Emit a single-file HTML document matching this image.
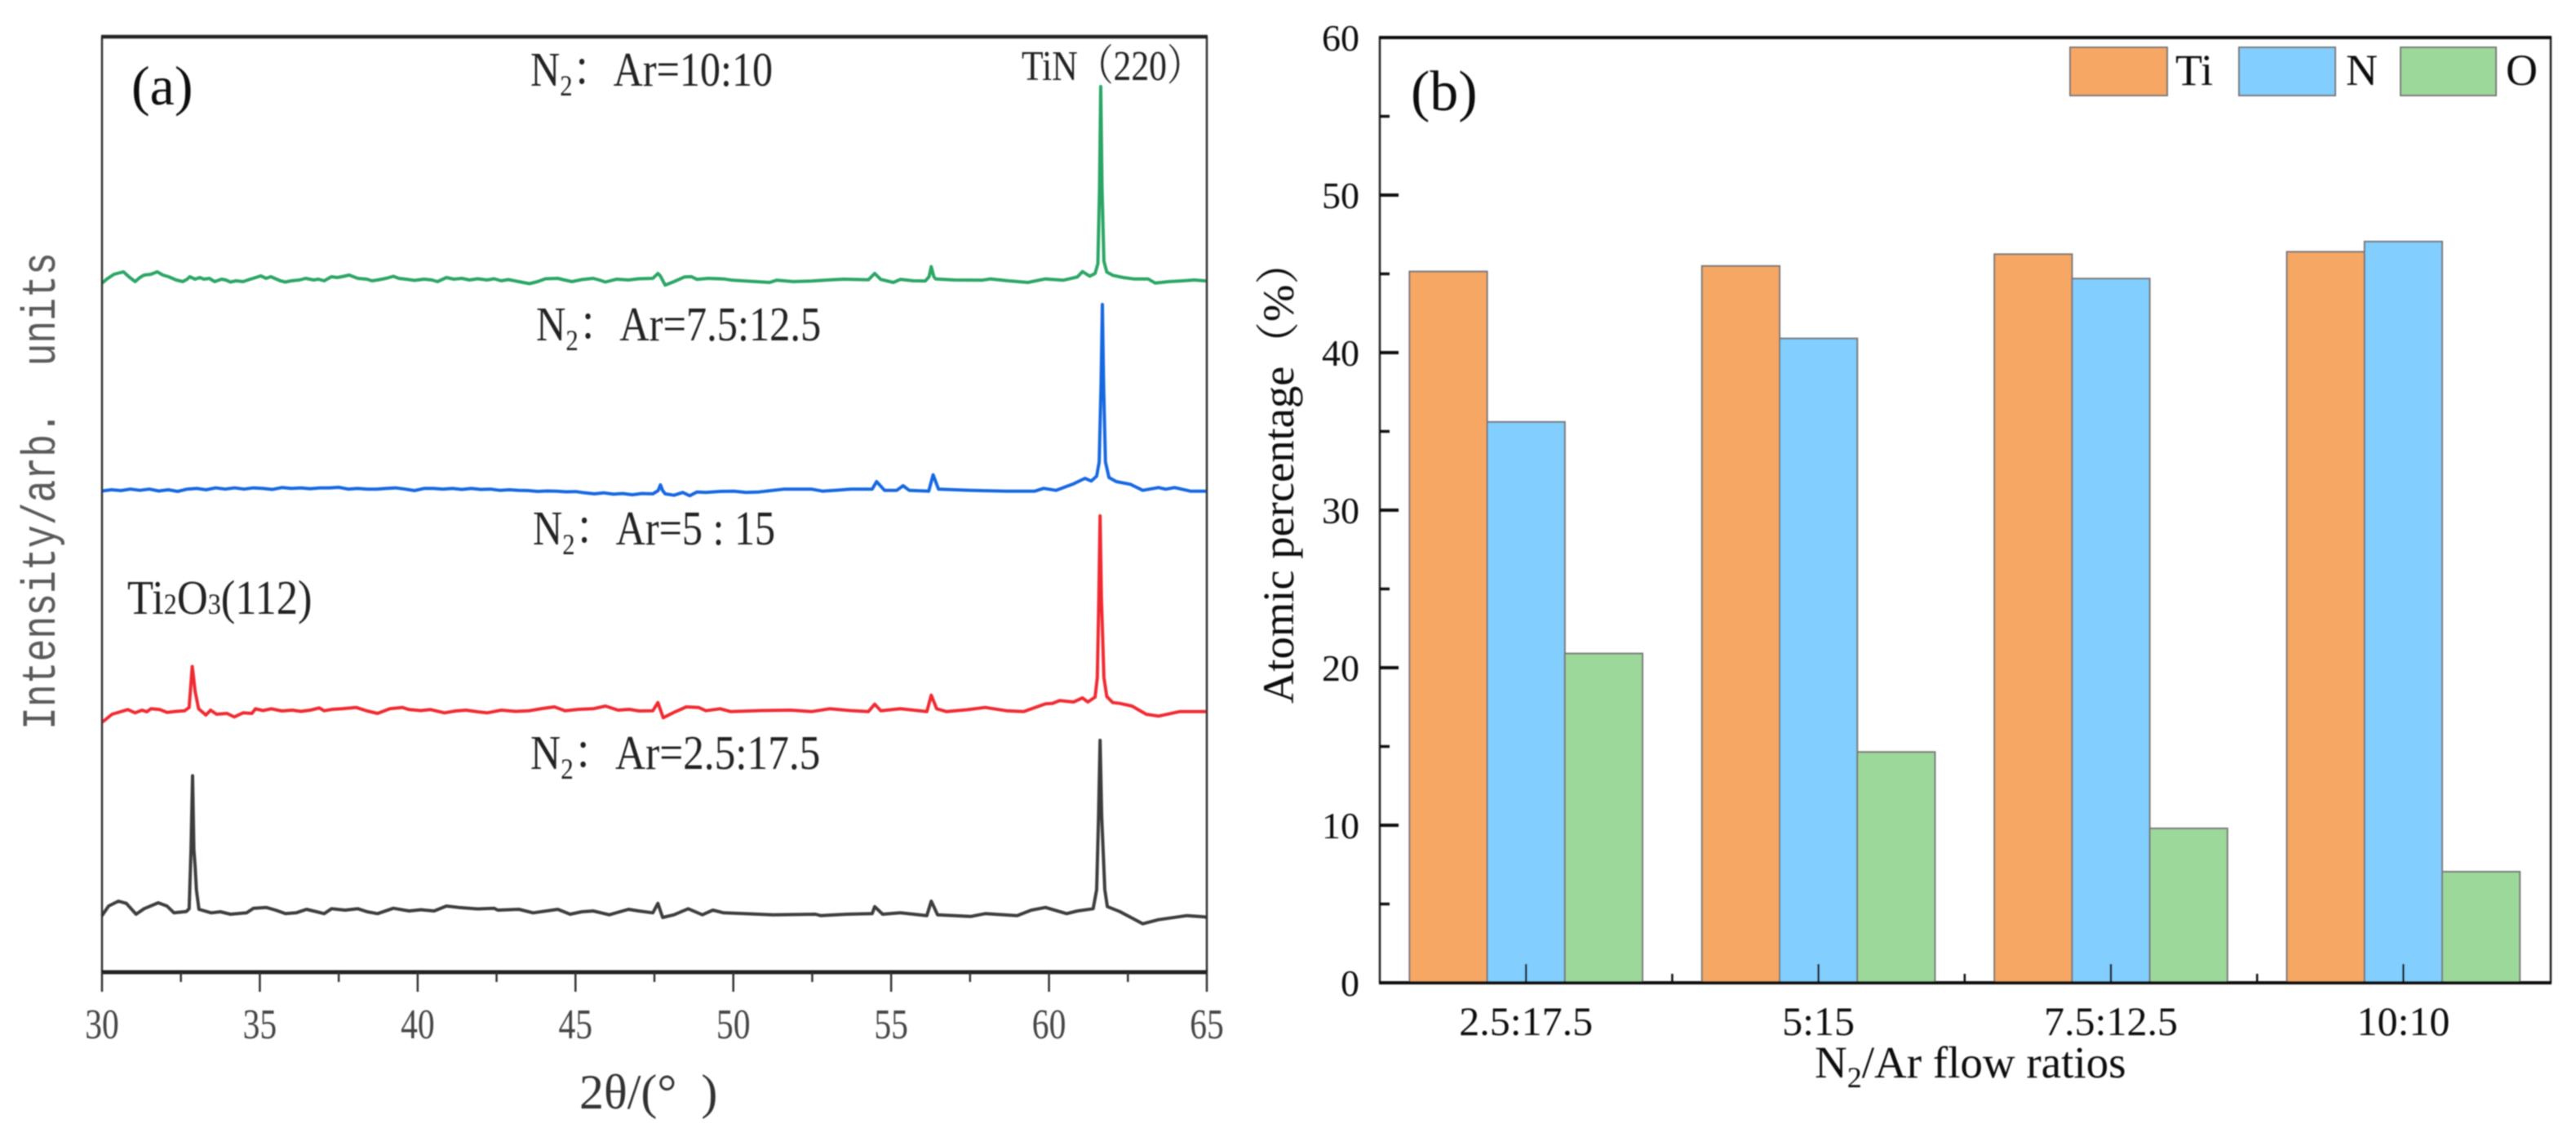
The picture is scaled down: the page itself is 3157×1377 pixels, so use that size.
<!DOCTYPE html>
<html lang="en">
<head>
<meta charset="utf-8">
<title>XRD patterns and atomic percentage of TiN films</title>
<style>
html,body{margin:0;padding:0;background:#fff;width:3157px;height:1377px;overflow:hidden}
svg{display:block}
text{font-family:"Liberation Serif","Noto Serif CJK SC",serif;white-space:pre}
.mono{font-family:"Liberation Mono","DejaVu Sans Mono",monospace}
</style>
</head>
<body>
<svg id="figure" xmlns="http://www.w3.org/2000/svg" width="3157" height="1377" viewBox="0 0 3157 1377">
<defs>
<filter id="soft" filterUnits="userSpaceOnUse" x="0" y="0" width="3157" height="1377"><feGaussianBlur stdDeviation="0.9"/></filter>
</defs>
<rect width="3157" height="1377" fill="#fff"/>
<g filter="url(#soft)">
<g id="panelA"></g>
<g id="panelB"></g>

<!-- Panel (a) text -->
<text x="161" y="128" font-size="68" fill="#111">(a)</text>
<text transform="translate(650,105) scale(0.85,1)" font-size="59" fill="#222">N<tspan font-size="36" dy="12">2</tspan><tspan dy="-12">：Ar=10:10</tspan></text>
<text transform="translate(657,417) scale(0.855,1)" font-size="59" fill="#222">N<tspan font-size="36" dy="12">2</tspan><tspan dy="-12">：Ar=7.5:12.5</tspan></text>
<text transform="translate(653,667) scale(0.85,1)" font-size="59" fill="#222">N<tspan font-size="36" dy="12">2</tspan><tspan dy="-12">：Ar=5 : 15</tspan></text>
<text transform="translate(650,942) scale(0.87,1)" font-size="59" fill="#222">N<tspan font-size="36" dy="12">2</tspan><tspan dy="-12">：Ar=2.5:17.5</tspan></text>
<text transform="translate(1252,98) scale(0.84,1)" font-size="52" fill="#222">TiN（220）</text>
<text transform="translate(156,752) scale(0.89,1)" font-size="59" fill="#222">Ti<tspan font-size="36">2</tspan>O<tspan font-size="36">3</tspan>(112)</text>
<text x="710" y="1358" font-size="60" fill="#333">2θ/(°  )</text>
<text class="mono" transform="translate(67,894) rotate(-90) scale(0.8,1)" font-size="58" fill="#5a5a5a">Intensity/arb.  units</text>

<!-- Panel (b) text -->
<text x="1729" y="135" font-size="70" fill="#111">(b)</text>
<text x="2224" y="1320" font-size="55" fill="#111">N<tspan font-size="36" dy="12">2</tspan><tspan dy="-12">/Ar flow ratios</tspan></text>
<text transform="translate(1585,862) rotate(-90) scale(1.01,1)" font-size="54" fill="#111">Atomic percentage（%）</text>

<!-- Legend -->
<g>
<rect x="2537" y="58" width="119" height="59" fill="#f5a764" stroke="#777" stroke-width="2"/>
<text x="2666" y="104" font-size="54" fill="#111">Ti</text>
<rect x="2744" y="58" width="118" height="59" fill="#82cefe" stroke="#777" stroke-width="2"/>
<text x="2875" y="104" font-size="54" fill="#111">N</text>
<rect x="2942" y="58" width="117" height="59" fill="#9dd89b" stroke="#777" stroke-width="2"/>
<text x="3071" y="104" font-size="54" fill="#111">O</text>
</g>
</g>
</svg>

<script>
// ---------- Panel (a) data: [2-theta (deg), intensity (arb. units)] readings ----------
const xrdTicks = [30, 35, 40, 45, 50, 55, 60, 65];
const xrdMinorTicks = [32.5, 37.5, 42.5, 47.5, 52.5, 57.5, 62.5];

const greenCurve = [[30,844],[30.15,849],[30.38,855],[30.68,858],[30.85,852],[31.05,846],[31.2,851],[31.33,854],[31.55,855],[31.75,858],[31.93,854],[32.11,852],[32.35,848],[32.56,846],[32.7,849],[32.78,852],[32.95,849],[33.1,851],[33.23,849],[33.4,850],[33.57,846],[33.79,849],[33.92,848],[34.07,845.5],[34.25,847],[34.47,846],[34.7,849],[34.87,851],[35.03,853],[35.2,850],[35.35,852],[35.47,850],[35.65,847],[35.81,845.5],[36,847],[36.26,848],[36.45,850],[36.71,848],[36.85,849],[37.04,847],[37.27,852],[37.45,851],[37.6,852],[37.83,854],[38.1,850],[38.39,849],[38.55,847],[38.73,848],[39,850],[39.23,852.5],[39.4,850],[39.62,849],[39.9,847.5],[40.2,849],[40.45,848],[40.63,846],[40.91,851],[41.15,849],[41.4,850],[41.64,848],[41.9,849.5],[42.2,848],[42.42,849.5],[42.65,847],[42.87,848.5],[43.2,846],[43.54,843.5],[43.8,846],[44.05,849.5],[44.44,850],[44.65,848],[44.89,846],[45.2,848.5],[45.56,850],[45.75,848],[45.95,845.5],[46.3,849],[46.68,848],[47,849.5],[47.45,850],[47.61,856],[47.69,852.7],[47.84,841.7],[48.12,846],[48.45,851.7],[48.68,852],[48.85,848.7],[49.2,850],[49.69,849.3],[49.97,847.7],[50.5,846.5],[51.15,845],[51.37,847.7],[51.9,846],[52.49,846.7],[53,848],[53.5,849],[54.28,848.3],[54.48,856],[54.67,848.7],[55.07,845],[55.29,848.7],[55.7,847],[56.08,846.7],[56.2,852],[56.27,864.3],[56.35,852],[56.41,849.3],[57,848],[57.87,847.7],[58.15,849.3],[58.7,847],[59.33,845],[59.89,849.3],[60.45,847.7],[60.9,851.7],[61.06,858.3],[61.29,852.7],[61.46,856],[61.55,868],[61.6,960],[61.64,1085],[61.68,960],[61.74,871],[61.83,857.7],[62.02,853.7],[62.35,851],[62.69,849.3],[63.14,849.3],[63.36,844.3],[63.8,846],[64.26,847],[64.6,848],[65,846.7]];

const blueCurve = [[30,589.5],[30.3,591],[30.6,590],[30.9,591.8],[31.2,590.3],[31.5,591.8],[31.8,589.5],[32.1,591],[32.4,589],[32.7,591.8],[33,592.6],[33.3,591],[33.6,593.3],[33.9,591.8],[34.2,593.3],[34.5,591.8],[34.8,593.3],[35.1,592.6],[35.4,591.4],[35.7,593.7],[36,592.6],[36.3,593.3],[36.6,592.2],[36.9,593.3],[37.2,593.3],[37.5,594],[37.8,591.8],[38.1,592.6],[38.4,591.8],[38.7,591.8],[39,592.6],[39.3,593.3],[39.6,591.8],[39.9,590],[40.2,592.6],[40.5,592.6],[40.8,591.8],[41.1,592.6],[41.4,591.4],[41.7,592.6],[42,591.4],[42.3,591.8],[42.6,590.3],[42.9,591],[43.2,590.3],[43.5,590],[43.8,589],[44.1,589.5],[44.4,589.3],[44.7,588.5],[45,588.8],[45.3,587.2],[45.6,586],[45.9,587.2],[46.2,585.6],[46.5,586.4],[46.8,584.9],[47.1,586.4],[47.45,586],[47.62,590],[47.69,597],[47.76,590],[47.84,586],[48.12,584.3],[48.4,587.7],[48.62,583.7],[48.85,588.3],[49.13,587.7],[49.6,589],[50.02,589.3],[50.4,587.8],[50.81,588.3],[51.2,590],[51.59,591.7],[52.49,591.7],[52.83,589.3],[53.3,590.5],[53.72,591.7],[54.4,591.7],[54.54,601],[54.79,590.3],[55.18,590.3],[55.38,596],[55.57,590.3],[56.19,589.3],[56.33,609.3],[56.5,591.7],[57.53,590.3],[58.65,589.3],[59.55,589.3],[59.83,592.7],[60.22,590.3],[60.78,598.3],[61.14,605],[61.34,601.7],[61.51,607.7],[61.59,625],[61.65,720],[61.69,818],[61.73,720],[61.79,625],[61.9,606],[62.13,601],[62.58,597.7],[62.97,590.3],[63.47,593.7],[63.7,591.7],[63.98,593.7],[64.48,589.3],[65,589.3]];

const redCurve = [[30,306],[30.32,316],[30.82,321.7],[31.05,317.7],[31.27,321],[31.42,319],[31.55,322.7],[31.83,321.7],[32.06,318.3],[32.35,319.5],[32.62,320.3],[32.76,324.3],[32.86,374.5],[32.9,361],[32.95,344.3],[33.06,322.7],[33.29,315],[33.44,321],[33.63,316],[33.96,317],[34.19,312.7],[34.47,317.7],[34.75,317],[34.86,322.7],[35.1,320.5],[35.36,322.7],[35.7,320],[36.03,321],[36.3,319.5],[36.6,321],[36.88,323.7],[37.04,320.3],[37.3,322],[37.6,322.7],[38.05,324.3],[38.4,320],[38.73,317],[39.12,322.7],[39.51,324.3],[39.73,321.7],[40.1,320.5],[40.41,321.7],[40.85,317.7],[41.2,320],[41.53,321],[41.9,319],[42.2,317.7],[42.65,321],[43.1,319.5],[43.54,320.3],[43.95,323],[44.33,325],[44.67,320.3],[45.1,322],[45.56,322.7],[45.95,326],[46.35,321],[46.7,322],[47.02,320],[47.45,320.3],[47.61,330.3],[47.78,311.7],[48.12,318.3],[48.51,325],[48.9,324.3],[49.13,320.3],[49.58,322.7],[49.91,319.3],[50.9,320.5],[51.82,321],[52.49,319.3],[53.05,322.7],[53.7,320.5],[54.28,319.3],[54.48,328.3],[54.67,320.3],[55.29,322.7],[56.13,319.3],[56.27,339.3],[56.44,322.7],[56.75,319.3],[57.4,321.5],[57.98,324.3],[58.65,320.3],[59.2,319.3],[59.89,328.7],[60.11,329.3],[60.34,332.7],[60.78,331],[61.06,336],[61.23,331],[61.46,337],[61.53,361],[61.58,460],[61.62,559],[61.66,460],[61.74,361],[61.83,337.7],[62.02,330.3],[62.24,329.3],[62.63,326],[63.08,316],[63.47,313.7],[64.15,319.3],[65,319.3]];

const blackCurve = [[30,69.3],[30.21,81],[30.52,87],[30.77,84.3],[31.08,71],[31.33,77.7],[31.78,85],[32.06,81],[32.28,72.7],[32.67,74.3],[32.76,77.7],[32.82,150],[32.87,240.6],[32.91,150],[32.95,130],[32.99,101],[33.07,77],[33.46,72.7],[33.75,74],[34.07,71],[34.58,72.7],[34.8,78.3],[35.2,79.3],[35.5,76],[35.81,71.7],[36.15,72.7],[36.48,77],[36.8,74],[37.04,71.7],[37.27,77.7],[37.7,76],[38.11,77.7],[38.4,74],[38.73,71.7],[39.23,78.3],[39.73,75],[40.1,76.5],[40.52,75],[40.91,81],[41.3,79.3],[41.9,77.5],[42.42,78.3],[42.54,76],[43.21,77],[43.66,72.7],[44.44,77],[44.83,71],[45.2,74],[45.56,75],[46.07,70.3],[46.68,77],[47,75],[47.45,72.7],[47.61,84.3],[47.76,67],[48.12,70.3],[48.57,77.7],[49.02,70.3],[49.35,76],[49.69,72.7],[50.5,71.5],[51.26,70.3],[52.6,71],[52.77,69.3],[53.6,71],[54.4,71.7],[54.48,80.3],[54.73,71],[55.29,72.7],[56.13,69.3],[56.27,87],[56.47,70.3],[57.53,68.3],[57.98,71.7],[58.99,69.3],[59.44,76],[59.89,79.3],[60.56,71.7],[60.9,75],[61.4,77.7],[61.51,101],[61.57,190],[61.62,284],[61.67,190],[61.77,101],[61.85,80.3],[62.24,74.3],[62.97,59.3],[63.47,64.3],[64.37,69.3],[64.93,67.7],[65,67]];

const xrdColors = ['#3d3d3d', '#ef2a30', '#1668e0', '#2ba565'];

// ---------- Panel (b) data ----------
const flowRatios = ['2.5:17.5', '5:15', '7.5:12.5', '10:10'];
const tiValues = [45.15, 45.5, 46.25, 46.4];
const nValues = [35.6, 40.9, 44.7, 47.05];
const oValues = [20.9, 14.65, 9.8, 7.05];
const percentTicks = [0, 10, 20, 30, 40, 50, 60];
const percentMinorTicks = [5, 15, 25, 35, 45, 55];

const SVG_NS = 'http://www.w3.org/2000/svg';
const panelA = document.getElementById('panelA');
const panelB = document.getElementById('panelB');

function make(parent, tag, attrs) {
  const el = document.createElementNS(SVG_NS, tag);
  for (const k in attrs) el.setAttribute(k, attrs[k]);
  parent.appendChild(el);
  return el;
}

// Axis functions, panel (a)
function xrdX(theta) { return 125 + (theta - 30) / 35 * 1354; }
function xrdY(v) { return 1191 - v; }

// Axis functions, panel (b)
function pctY(v) { return 1204 - v / 60 * 1158; }
function catX(i) { return 1691 + (i + 0.5) * 358.4; }

// ----- Draw panel (a) -----
const xrdSeries = [
  {name: 'xrd-curve-2-5-17-5', curve: blackCurve, color: xrdColors[0]},
  {name: 'xrd-curve-5-15', curve: redCurve, color: xrdColors[1]},
  {name: 'xrd-curve-7-5-12-5', curve: blueCurve, color: xrdColors[2]},
  {name: 'xrd-curve-10-10', curve: greenCurve, color: xrdColors[3]}
];
xrdSeries.forEach(function (s) {
  const pts = s.curve.map(function (p) { return xrdX(p[0]).toFixed(1) + ',' + xrdY(p[1]).toFixed(1); });
  const line = make(panelA, 'polyline', {points: pts.join(' '), fill: 'none', stroke: s.color, 'stroke-width': 4, 'stroke-linejoin': 'round'});
  
  
});

const frameA = make(panelA, 'path', {d: 'M125 45V1191M1479 45V1191', stroke: '#333', 'stroke-width': 2.5, fill: 'none'});


const topA = make(panelA, 'line', {x1: 124, x2: 1480, y1: 45, y2: 45, stroke: '#222', 'stroke-width': 4.5});


const bottomA = make(panelA, 'line', {x1: 124, x2: 1480, y1: 1191, y2: 1191, stroke: '#222', 'stroke-width': 5});



xrdTicks.forEach(function (t) {
  const tick = make(panelA, 'line', {x1: xrdX(t), x2: xrdX(t), y1: 1191, y2: 1215, stroke: '#333', 'stroke-width': 2.5});
  
  
  const label = make(panelA, 'text', {transform: 'translate(' + xrdX(t) + ',1272) scale(0.8,1)', 'text-anchor': 'middle', 'font-size': 52, fill: '#444'});
  label.textContent = String(t);
  
  
});
xrdMinorTicks.forEach(function (t) {
  const tick = make(panelA, 'line', {x1: xrdX(t), x2: xrdX(t), y1: 1191, y2: 1203, stroke: '#333', 'stroke-width': 2.5});
  
  
});

// ----- Draw panel (b) -----
const barSeries = [
  {name: 'bar-ti', values: tiValues, color: '#f5a764', offset: -1},
  {name: 'bar-n', values: nValues, color: '#82cefe', offset: 0},
  {name: 'bar-o', values: oValues, color: '#9dd89b', offset: 1}
];
const barW = 95.2;
barSeries.forEach(function (s) {
  s.values.forEach(function (v, i) {
    const x = catX(i) + (s.offset - 0.5) * barW;
    const bar = make(panelB, 'rect', {x: x, y: pctY(v), width: barW, height: pctY(0) - pctY(v), fill: s.color, stroke: '#777', 'stroke-width': 2});
    
    
  });
});

const frameB = make(panelB, 'path', {d: 'M1691 45V1204M3126 45V1204', stroke: '#222', 'stroke-width': 2.5, fill: 'none'});


const topB = make(panelB, 'line', {x1: 1690, x2: 3127, y1: 46, y2: 46, stroke: '#111', 'stroke-width': 4});


const bottomB = make(panelB, 'line', {x1: 1690, x2: 3127, y1: 1204, y2: 1204, stroke: '#111', 'stroke-width': 4});



percentTicks.forEach(function (v) {
  if (v > 0 && v < 60) {
    const tick = make(panelB, 'line', {x1: 1691, x2: 1714, y1: pctY(v), y2: pctY(v), stroke: '#111', 'stroke-width': 4});
    
    
  }
  const label = make(panelB, 'text', {x: 1666, y: pctY(v) + 16, 'text-anchor': 'end', 'font-size': 46, fill: '#111'});
  label.textContent = String(v);
  
  
});
percentMinorTicks.forEach(function (v) {
  const tick = make(panelB, 'line', {x1: 1691, x2: 1703, y1: pctY(v), y2: pctY(v), stroke: '#111', 'stroke-width': 3.5});
  
  
});
flowRatios.forEach(function (name, i) {
  const tick = make(panelB, 'line', {x1: catX(i), x2: catX(i), y1: 1204, y2: 1181, stroke: '#111', 'stroke-width': 2.5});
  
  
  if (i < flowRatios.length - 1) {
    const minor = make(panelB, 'line', {x1: catX(i + 0.5), x2: catX(i + 0.5), y1: 1204, y2: 1193, stroke: '#111', 'stroke-width': 2.5});
    
    
  }
  const label = make(panelB, 'text', {x: catX(i), y: 1268, 'text-anchor': 'middle', 'font-size': 50, fill: '#111'});
  label.textContent = name;
  
  
});
</script>
</body>
</html>
